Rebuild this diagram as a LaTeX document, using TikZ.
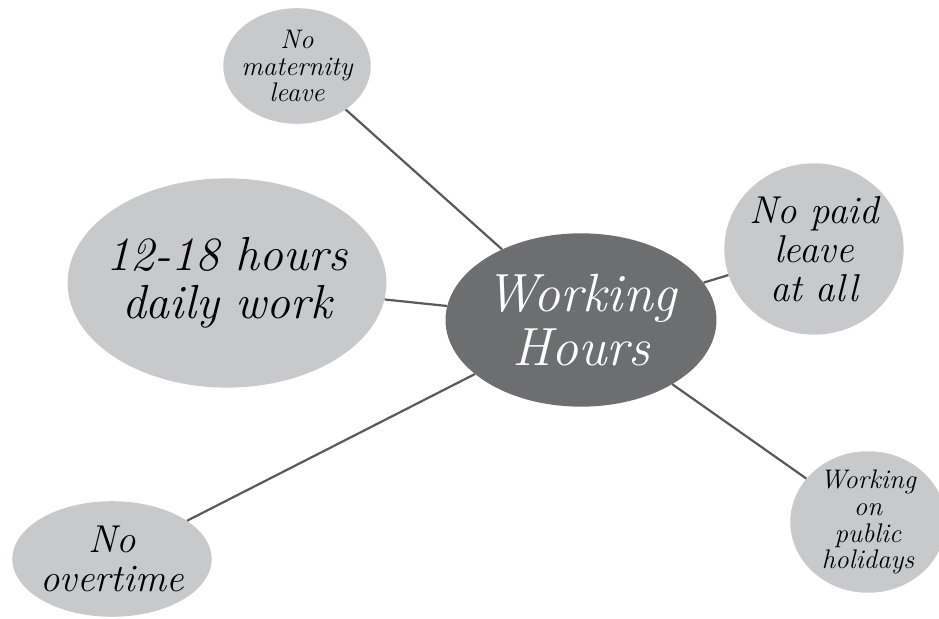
\documentclass[tikz,border=0pt]{standalone}
\usetikzlibrary{shapes.geometric}
\definecolor{hub}{HTML}{6D6E70}
\definecolor{leaf}{HTML}{C8C9CB}
\definecolor{wire}{HTML}{58595B}
\begin{document}
\begin{tikzpicture}[x=1bp,y=1bp,
	leafnode/.style={ellipse,fill=leaf,inner sep=0pt},
	hubnode/.style={ellipse,fill=hub,inner sep=0pt},
	words/.style={align=center,inner sep=0pt,font=\itshape\fontsize{#1}{#1}\selectfont},
	wire/.style={draw=wire,line width=2.2bp}]
\useasboundingbox (0,0) rectangle (939,619);
\clip (0,0) rectangle (939,619);
\node[hubnode,minimum width=272,minimum height=174,
	label={[words=54,text=white]center:Working\\Hours}] (hours) at (581,299) {};
\node[leafnode,minimum width=148,minimum height=116,
	label={[words=27]center:No\\maternity\\leave}] (maternity) at (297,553) {};
\node[leafnode,minimum width=320,minimum height=210,
	label={[words=48]center:12-18 hours\\daily work}] (daily) at (227,336) {};
\node[leafnode,minimum width=180,minimum height=172,
	label={[words=39]center:No paid\\leave\\at all}] (paid) at (814,370) {};
\node[leafnode,minimum width=156,minimum height=142,
	label={[words=27]center:Working\\on\\public\\holidays}] (holidays) at (868,97) {};
\node[leafnode,minimum width=200,minimum height=116,
	label={[words=39]center:No\\overtime}] (overtime) at (112,60) {};
% connectors
\foreach \n in {maternity,daily,paid,holidays,overtime} {
	\draw[wire] (hours) -- (\n);
}
\end{tikzpicture}
\end{document}
